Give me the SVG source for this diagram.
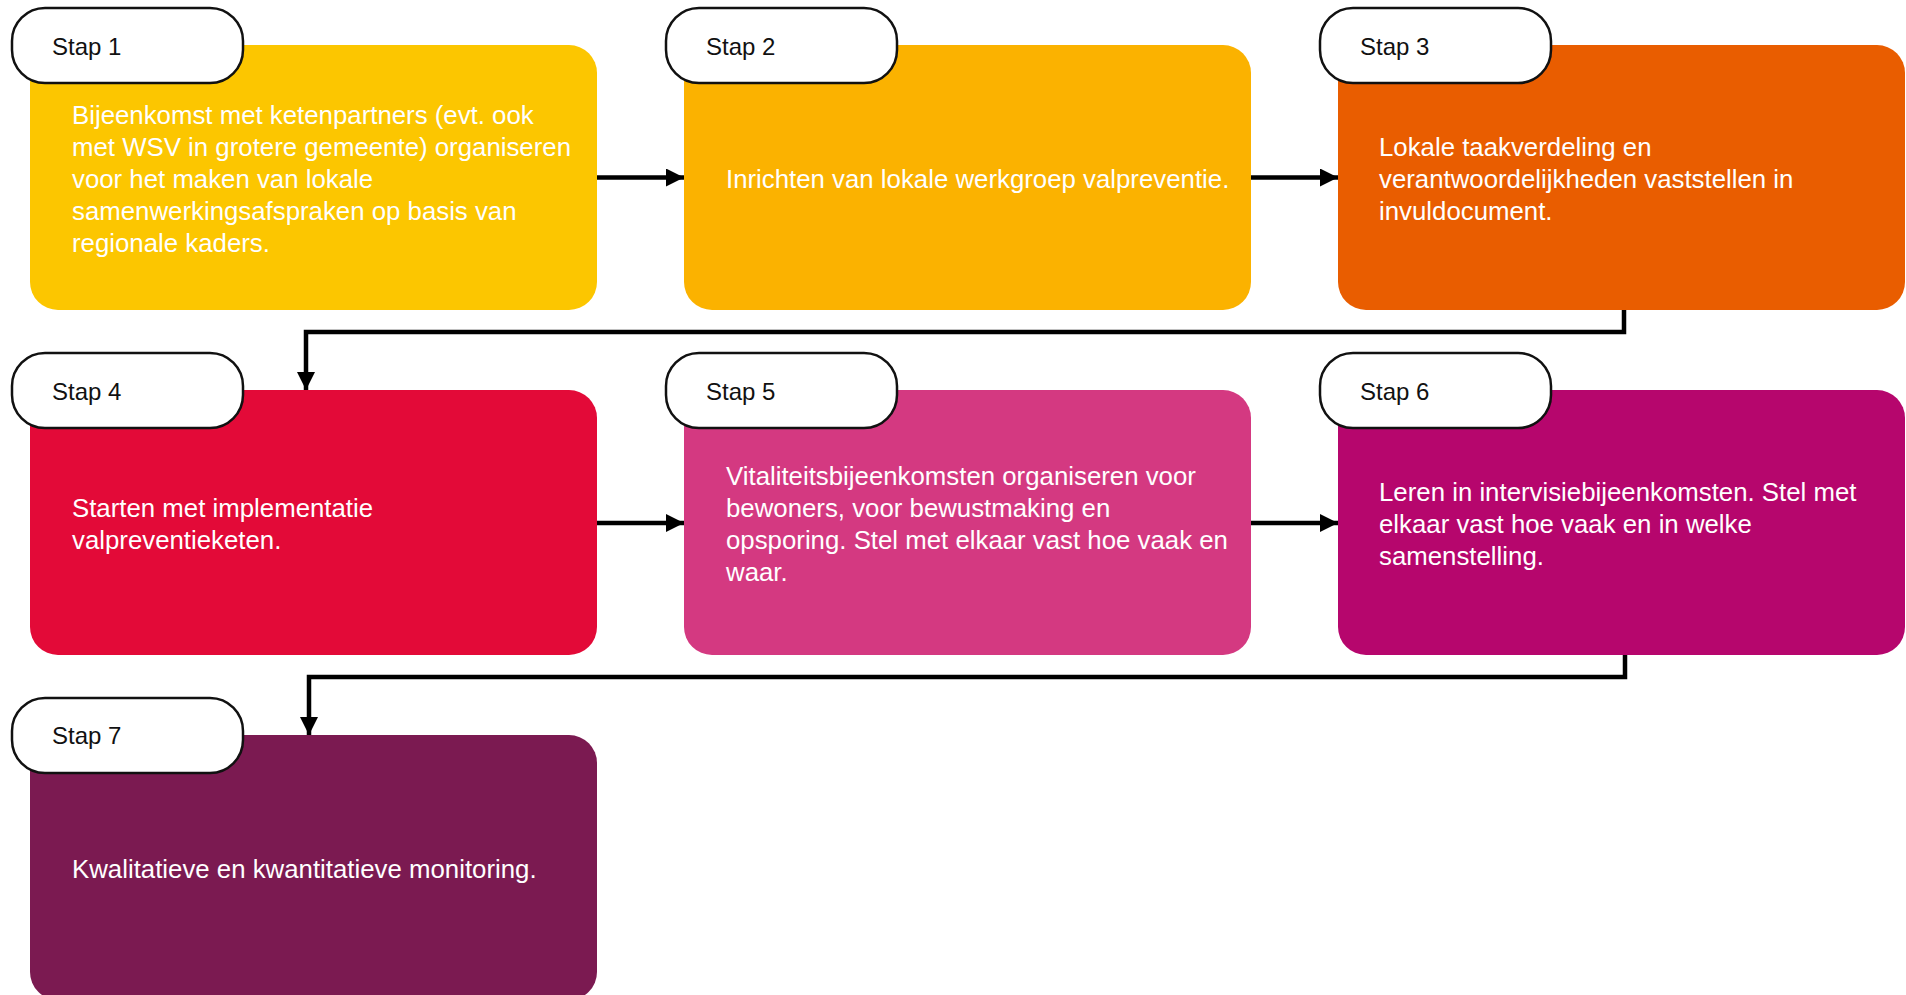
<svg xmlns="http://www.w3.org/2000/svg" width="1906" height="995" viewBox="0 0 1906 995">
<defs>
<marker id="ah" markerUnits="userSpaceOnUse" markerWidth="18" markerHeight="18" viewBox="0 0 16 16" refX="16" refY="8" orient="auto">
<path d="M0,0 L16,8 L0,16 Z" fill="#000"/>
</marker>
<style>
.box{stroke:none}
.pill{fill:#fff;stroke:#111;stroke-width:2.5}
.lbl{font-family:"Liberation Sans",Arial,sans-serif;font-size:24px;fill:#111}
.txt{font-family:"Liberation Sans",Arial,sans-serif;font-size:25.8px;fill:#fff}
.conn{fill:none;stroke:#000;stroke-width:4.5;marker-end:url(#ah)}
</style>
</defs>
<rect width="1906" height="995" fill="#fff"/>
<g id="connectors">
<path class="conn" d="M597,177.5 H684"/>
<path class="conn" d="M1251,177.5 H1338"/>
<path class="conn" d="M1624,310 V332 H306 V390"/>
<path class="conn" d="M597,523 H684"/>
<path class="conn" d="M1251,523 H1338"/>
<path class="conn" d="M1625,655 V677 H309 V735"/>
</g>
<g id="stap1">
<rect class="box" x="30" y="45" width="567" height="265" rx="28" fill="#FCC600"/>
<rect class="pill" x="12" y="8" width="231" height="75" rx="33"/>
<text class="lbl" x="52" y="55">Stap 1</text>
<text class="txt" x="72" y="124">Bijeenkomst met ketenpartners (evt. ook</text>
<text class="txt" x="72" y="156">met WSV in grotere gemeente) organiseren</text>
<text class="txt" x="72" y="188">voor het maken van lokale</text>
<text class="txt" x="72" y="220">samenwerkingsafspraken op basis van</text>
<text class="txt" x="72" y="252">regionale kaders.</text>
</g>
<g id="stap2">
<rect class="box" x="684" y="45" width="567" height="265" rx="28" fill="#FBB200"/>
<rect class="pill" x="666" y="8" width="231" height="75" rx="33"/>
<text class="lbl" x="706" y="55">Stap 2</text>
<text class="txt" x="726" y="188">Inrichten van lokale werkgroep valpreventie.</text>
</g>
<g id="stap3">
<rect class="box" x="1338" y="45" width="567" height="265" rx="28" fill="#E95D00"/>
<rect class="pill" x="1320" y="8" width="231" height="75" rx="33"/>
<text class="lbl" x="1360" y="55">Stap 3</text>
<text class="txt" x="1379" y="156">Lokale taakverdeling en</text>
<text class="txt" x="1379" y="188">verantwoordelijkheden vaststellen in</text>
<text class="txt" x="1379" y="220">invuldocument.</text>
</g>
<g id="stap4">
<rect class="box" x="30" y="390" width="567" height="265" rx="28" fill="#E30A38"/>
<rect class="pill" x="12" y="353" width="231" height="75" rx="33"/>
<text class="lbl" x="52" y="400">Stap 4</text>
<text class="txt" x="72" y="517">Starten met implementatie</text>
<text class="txt" x="72" y="549">valpreventieketen.</text>
</g>
<g id="stap5">
<rect class="box" x="684" y="390" width="567" height="265" rx="28" fill="#D43981"/>
<rect class="pill" x="666" y="353" width="231" height="75" rx="33"/>
<text class="lbl" x="706" y="400">Stap 5</text>
<text class="txt" x="726" y="485">Vitaliteitsbijeenkomsten organiseren voor</text>
<text class="txt" x="726" y="517">bewoners, voor bewustmaking en</text>
<text class="txt" x="726" y="549">opsporing. Stel met elkaar vast hoe vaak en</text>
<text class="txt" x="726" y="581">waar.</text>
</g>
<g id="stap6">
<rect class="box" x="1338" y="390" width="567" height="265" rx="28" fill="#B6066D"/>
<rect class="pill" x="1320" y="353" width="231" height="75" rx="33"/>
<text class="lbl" x="1360" y="400">Stap 6</text>
<text class="txt" x="1379" y="501">Leren in intervisiebijeenkomsten. Stel met</text>
<text class="txt" x="1379" y="533">elkaar vast hoe vaak en in welke</text>
<text class="txt" x="1379" y="565">samenstelling.</text>
</g>
<g id="stap7">
<rect class="box" x="30" y="735" width="567" height="265" rx="28" fill="#7B1A51"/>
<rect class="pill" x="12" y="698" width="231" height="75" rx="33"/>
<text class="lbl" x="52" y="744">Stap 7</text>
<text class="txt" x="72" y="878">Kwalitatieve en kwantitatieve monitoring.</text>
</g>
</svg>
